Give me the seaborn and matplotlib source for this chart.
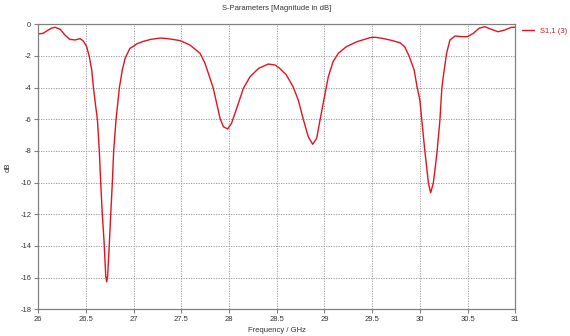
import numpy as np
import pandas as pd
import matplotlib
matplotlib.use("Agg")
import matplotlib.pyplot as plt
import seaborn as sns

freq_ghz = [26.0, 26.05, 26.105, 26.14, 26.175, 26.23, 26.28, 26.33, 26.385, 26.437, 26.47,
            26.507, 26.535, 26.56, 26.578, 26.60, 26.62, 26.64, 26.654, 26.67, 26.69, 26.707,
            26.717, 26.727, 26.745, 26.76, 26.776, 26.79, 26.815, 26.85, 26.88, 26.91, 26.96,
            27.0, 27.03, 27.1, 27.18, 27.276, 27.35, 27.415, 27.486, 27.59, 27.695, 27.747,
            27.8, 27.834, 27.87, 27.905, 27.94, 27.985, 28.025, 28.08, 28.15, 28.22, 28.31,
            28.41, 28.48, 28.53, 28.60, 28.67, 28.725, 28.78, 28.83, 28.876, 28.918, 28.953,
            29.0, 29.04, 29.09, 29.145, 29.23, 29.34, 29.48, 29.53, 29.60, 29.686, 29.79,
            29.84, 29.89, 29.94, 29.97, 30.0, 30.02, 30.053, 30.09, 30.113, 30.14, 30.16,
            30.18, 30.21, 30.23, 30.245, 30.28, 30.315, 30.37, 30.44, 30.5, 30.56, 30.62,
            30.68, 30.75, 30.82, 30.89, 30.96, 31.0]
s11_db = [-0.61, -0.57, -0.36, -0.24, -0.19, -0.32, -0.68, -0.95, -0.99, -0.91, -1.04,
          -1.41, -2.05, -2.89, -4.0, -5.1, -6.05, -8.05, -10.0, -11.9, -13.8, -15.9,
          -16.26, -15.9, -13.8, -11.9, -10.0, -8.0, -6.0, -4.0, -2.9, -2.15, -1.52,
          -1.38, -1.24, -1.08, -0.95, -0.87, -0.9, -0.96, -1.03, -1.31, -1.83, -2.46,
          -3.41, -4.04, -5.0, -5.94, -6.47, -6.61, -6.26, -5.3, -4.04, -3.31, -2.78,
          -2.51, -2.57, -2.78, -3.2, -3.94, -4.78, -6.05, -7.1, -7.58, -7.2, -6.05,
          -4.57, -3.31, -2.36, -1.83, -1.41, -1.1, -0.84, -0.82, -0.88, -0.99, -1.16,
          -1.41, -2.05, -2.89, -3.94, -4.8, -6.05, -8.05, -10.05, -10.64, -10.05, -9.1,
          -8.05, -6.05, -4.04, -3.31, -1.83, -0.99, -0.74, -0.78, -0.78, -0.57, -0.25,
          -0.15, -0.32, -0.47, -0.36, -0.19, -0.19]

x_ticks = [26, 26.5, 27, 27.5, 28, 28.5, 29, 29.5, 30, 30.5, 31]
x_tick_labels = ["26", "26.5", "27", "27.5", "28", "28.5", "29", "29.5", "30", "30.5", "31"]
y_ticks = [0, -2, -4, -6, -8, -10, -12, -14, -16, -18]
y_tick_labels = ["0", "-2", "-4", "-6", "-8", "-10", "-12", "-14", "-16", "-18"]
series_name = "S1,1 (3)"

df = pd.DataFrame({"Frequency": freq_ghz, "dB": s11_db, "series": series_name})

sns.set_style("white")
plt.rcParams["font.family"] = ["Liberation Sans", "DejaVu Sans"]
fs = 5.5
gray = "#808080"
red = "#e0141e"

fig = plt.figure(figsize=(5.7, 3.36), dpi=100)
ax = fig.add_axes([0.0672, 0.0795, 0.904 - 0.0672, 0.9277 - 0.0795])

sns.lineplot(data=df, x="Frequency", y="dB", hue="series", palette=[red],
             linewidth=1.0, ax=ax, sort=False, estimator=None)

ax.set_xlim(26, 31)
ax.set_ylim(-18, 0)
ax.set_xticks(x_ticks)
ax.set_xticklabels(x_tick_labels)
ax.set_yticks(y_ticks)
ax.set_yticklabels(y_tick_labels)
ax.grid(True, linestyle=(0, (1.5, 1.5)), color="#909090", linewidth=0.6)
ax.set_axisbelow(True)
for sp in ax.spines.values():
    sp.set_color(gray)
    sp.set_linewidth(0.9)
ax.tick_params(axis="both", which="both", direction="out", length=3, width=0.8,
               color=gray, labelsize=fs, labelcolor="#333333", pad=2,
               bottom=True, left=True)

ax.set_xlabel("Frequency / GHz", fontsize=fs, color="#333333", labelpad=3)
ax.set_ylabel("dB", fontsize=fs, color="#333333", labelpad=6)
ax.set_title("S-Parameters [Magnitude in dB]", fontsize=fs, color="#333333", pad=10)

leg = ax.legend(loc="upper left", bbox_to_anchor=(1.008, 1.0), frameon=False,
                fontsize=fs, handlelength=1.6, handletextpad=0.7, borderaxespad=0.0)
for t in leg.get_texts():
    t.set_color("#cc1a22")
leg.set_title(None)

fig.savefig("out.png", dpi=100)
